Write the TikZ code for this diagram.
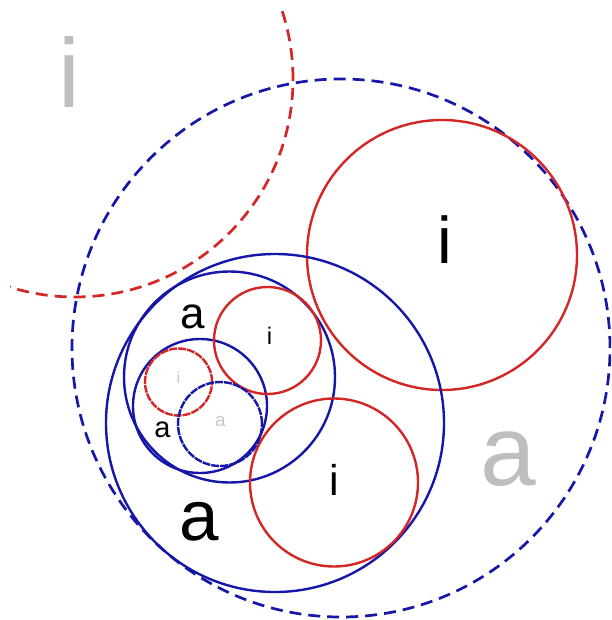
\documentclass[tikz,border=0pt]{standalone}
\usepackage{fontspec}
\setmainfont{Liberation Sans}
\definecolor{cblue}{RGB}{22,22,168}
\definecolor{cred}{RGB}{212,38,38}
\definecolor{cgray}{RGB}{190,190,190}
\definecolor{lgray}{RGB}{200,200,200}
\begin{document}
\begin{tikzpicture}[x=1pt, y=-1pt, line width=2.4pt,
	ablue/.style={draw=cblue},
	ired/.style={draw=cred},
	bigdash/.style={dash pattern=on 12pt off 7pt, line width=2.7pt},
	finedash/.style={dash pattern=on 8pt off 1pt},
	lbl/.style={inner sep=0pt, font=\fontsize{#1}{#1}\selectfont}]
	% 1. page frame (611 x 620)
	\useasboundingbox (0,0) rectangle (611,620);
	\clip (0,0) rectangle (611,620);
	
	% 2. outer dashed circles (the red one is cut at the upper left margin)
	\begin{scope}
		\clip (10,12) rectangle (611,620);
		\draw[ired, bigdash] (75,79) circle[radius=218pt];
	\end{scope}
	\draw[ablue, bigdash] (341,348) circle[radius=269pt];
	
	% 3. big red circle, upper right
	\draw[ired] (442,255) circle[radius=135pt];
	
	% 4. nested blue circles
	\draw[ablue] (275,423) circle[radius=169pt];
	\draw[ablue] (229.5,377) circle[radius=105.5pt];
	\draw[ablue] (200,406) circle[radius=67pt];
	
	% 5. red circles inside
	\draw[ired] (267.5,340.5) circle[radius=53.5pt];
	\draw[ired] (334,482.5) circle[radius=84pt];
	
	% 6. smallest pair, finely broken
	\draw[ired, finedash] (178.5,382) circle[radius=33.5pt];
	\draw[ablue, finedash] (220,424) circle[radius=42pt];
	
	% 7. letters
	\node[lbl=98, text=cgray] (iout) at (69,72) {i};
	\node[lbl=100, text=cgray] (aout) at (508,459) {a};
	\node[lbl=66] (ibig) at (444.5,240) {i};
	\node[lbl=44] (atop) at (192.5,316.5) {a};
	\node[lbl=24] (imid) at (269.5,335.5) {i};
	\node[lbl=43] (ilow) at (334.5,479.5) {i};
	\node[lbl=71] (abig) at (199,521.5) {a};
	\node[lbl=29] (asmall) at (162.5,429.5) {a};
	\node[lbl=16, text=lgray] (itiny) at (178.5,377.5) {i};
	\node[lbl=19, text=lgray] (atiny) at (220.5,421) {a};
\end{tikzpicture}
\end{document}
